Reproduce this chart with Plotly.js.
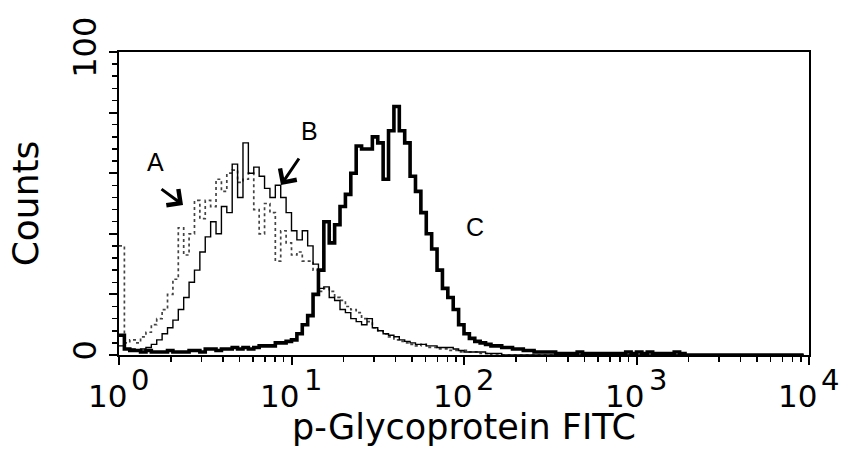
<!DOCTYPE html>
<html>
<head>
<meta charset="utf-8">
<script src="https://cdn.plot.ly/plotly-3.0.1.min.js"></script>
<style>
  html, body { margin: 0; padding: 0; background: #ffffff; }
  #chart { width: 843px; height: 458px; }
</style>
</head>
<body>
<div id="chart"></div>
<script>
// Histogram bins: 32 bins per decade over 4 decades (bin index -> left edge 10^(i/32))
const binIndex = [
  0,1,2,3,4,5,6,7,8,9,10,11,12,13,14,15,16,17,18,19,20,21,22,23,24,25,26,27,28,29,30,31,
  32,33,34,35,36,37,38,39,40,41,42,43,44,45,46,47,48,49,50,51,52,53,54,55,56,57,58,59,60,61,62,63,
  64,65,66,67,68,69,70,71,72,73,74,75,76,77,78,79,80,81,82,83,84,85,86,87,88,89,90,91,92,93,94,95,
  96,97,98,99,100,101,102,103,104,105,106,107,108,109,110,111,112,113,114,115,116,117,118,119,120,121,122,123,124,125,126,127
];

// Curve A (dotted)
const countsA = [
  36,4,5,4,6,7.5,10,12,15,20,
  25,42,33,40,51,45,51,49,58,54,
  60,61,57,58,60,48,40,50,47,31,
  41,37,33,34,31,31,28,21,22,21,
  19,18,16,15,14,12,11,9,8,7,
  6,5,4.5,4,3.5,3,3.5,2.5,2.5,2,
  2,1.5,1.5,1,1.5,1,1,0.5,0.5,0,
  0,0,0,0,0,0,0,0,0,0,
  0,0,0,0,0,0,0,0,0,0,
  0,0,0,0,0,0,0,0,0,0,
  0,0,0,0,0,0,0,0,0,0,
  0,0,0,0,0,0,0,0,0,0,
  0,0,0,0,0,0,0,0
];

// Curve B (thin solid)
const countsB = [
  3,2,2,1.5,2,2.5,3.5,5,7,9,
  11.5,15,19,24,28,34,39,44,40,49,
  47,63,52,70,60,62,59,55,52,56,
  52,47,41,38,41,36,30,22,22.5,19,
  18,15,14,12,11,10,12,9,8,7,
  6.5,6,5,4.5,4,3.5,3.5,3,3,2.5,
  2.5,2.5,2,1.5,1,1,1,1,0.5,0.5,
  0.5,0,0,0,0,0,0,0,0,0,
  0,0,0,0,0,0,0,0,0,0,
  0,0,0,0,0,0,0,0,0,0,
  0,0,0,0,0,0,0,0,0,0,
  0,0,0,0,0,0,0,0,0,0,
  0,0,0,0,0,0,0,0
];

// Curve C (thick solid)
const countsC = [
  6.5,2,1.5,1.5,1,1.5,1,1,1,1.5,
  1,1,1,1.5,1.5,1,2,2,1.5,2,
  2,2.5,2,2.5,2,2.5,3,3,3,4,
  4,4.5,5,7,10,13,20,28,44,37,
  43,49,53,60,69,68,68,72,70,58,
  74,82,74,70,59,54,47,40,35,28,
  22,19,15,10,7,5.5,4.5,4,3.5,3,
  3,2.5,2.5,2,2,1.5,1.5,1,1,1,
  1,0.5,0.5,0.5,0.5,1,0.5,0.5,0.5,0.5,
  0.5,0.5,0.5,0.5,1,0.5,1,0.5,1,0.5,
  0.5,0.5,0.5,1,0.5,0,0,0,0,0,
  0,0,0,0,0,0,0,0,0,0,
  0,0,0,0,0,0,0,0
];

// Curve labels and arrows
const labelText = ['A', 'B', 'C'];
const labelX = [1.62, 12.8, 116];
const labelY = [63.7, 73.9, 42.2];
const arrowX = [2.35, 8.69];
const arrowY = [49.5, 56.1];

// Axis ticks
const xTickVals = [1, 10, 100, 1000, 10000];
const xTickBase = ['10', '10', '10', '10', '10'];
const xTickExp = ['0', '1', '2', '3', '4'];
const xMinorVals = [2,3,4,5,6,7,8,9,20,30,40,50,60,70,80,90,200,300,400,500,600,700,800,900,2000,3000,4000,5000,6000,7000,8000,9000];
const yTickVals = [0, 20, 40, 60, 80, 100];
const yTickText = ['0', '', '', '', '', '100'];

const xEdges = binIndex.map(i => Math.pow(10, i / 32));

const traces = [
  {
    x: xEdges, y: countsA, type: 'scatter', mode: 'lines', line: {shape: 'hv', color: '#444444', width: 1.7, dash: 'dot'},
    hoverinfo: 'skip', showlegend: false
  },
  {
    x: xEdges, y: countsB, type: 'scatter', mode: 'lines', line: {shape: 'hv', color: '#000000', width: 1.4},
    hoverinfo: 'skip', showlegend: false
  },
  {
    x: xEdges, y: countsC, type: 'scatter', mode: 'lines', line: {shape: 'hv', color: '#000000', width: 3.6},
    hoverinfo: 'skip', showlegend: false
  }
];

const tickFont = 'DejaVu Sans, sans-serif';
const annotations = [];
// x tick labels as base + superscript exponent
xTickVals.forEach((v, k) => {
  annotations.push({
    x: Math.log10(v), y: 0, xref: 'x', yref: 'paper', text: xTickBase[k], showarrow: false,
    xanchor: 'center', yanchor: 'middle', xshift: -12, yshift: -41, borderpad: 0,
    font: {family: tickFont, size: 31, color: '#000'}
  });
  annotations.push({
    x: Math.log10(v), y: 0, xref: 'x', yref: 'paper', text: xTickExp[k], showarrow: false,
    xanchor: 'center', yanchor: 'middle', xshift: 21, yshift: -25, borderpad: 0,
    font: {family: tickFont, size: 29, color: '#000'}
  });
});
labelText.forEach((t, k) => {
  annotations.push({
    x: Math.log10(labelX[k]), y: labelY[k], xref: 'x', yref: 'y', text: t, showarrow: false,
    font: {family: 'Liberation Sans, Arial, sans-serif', size: 25, color: '#000'}
  });
});
const arrowOffsets = [[-23, -17], [19, -28]];
arrowX.forEach((ax, k) => {
  annotations.push({
    x: Math.log10(ax), y: arrowY[k], xref: 'x', yref: 'y', text: '', showarrow: true,
    arrowhead: 4, arrowsize: 1.3, arrowwidth: 3, arrowcolor: '#000',
    ax: arrowOffsets[k][0], ay: arrowOffsets[k][1]
  });
});

const layout = {
  width: 843, height: 458,
  margin: {l: 119, r: 34, t: 52, b: 103},
  paper_bgcolor: '#ffffff', plot_bgcolor: '#ffffff',
  showlegend: false,
  xaxis: {
    type: 'log', range: [0, 4],
    tickmode: 'array', tickvals: xTickVals, showticklabels: false,
    ticks: 'outside', ticklen: 8, tickwidth: 2, tickcolor: '#000',
    minor: {tickmode: 'array', tickvals: xMinorVals, ticks: 'outside', ticklen: 5, tickwidth: 1.5, tickcolor: '#000', showgrid: false},
    showline: true, linecolor: '#000', linewidth: 2, mirror: true,
    showgrid: false, zeroline: false,
    title: {text: 'p-Glycoprotein FITC', font: {family: tickFont, size: 35, color: '#000'}, standoff: 50}
  },
  yaxis: {
    range: [0, 100],
    tickmode: 'array', tickvals: yTickVals, ticktext: yTickText, tickangle: -90,
    ticks: 'outside', ticklen: 8, tickwidth: 2, tickcolor: '#000',
    minor: {tickmode: 'linear', tick0: 0, dtick: 4, ticks: 'outside', ticklen: 5, tickwidth: 1.5, tickcolor: '#000', showgrid: false},
    showline: true, linecolor: '#000', linewidth: 2, mirror: true,
    showgrid: false, zeroline: false,
    tickfont: {family: tickFont, size: 32, color: '#000'},
    title: {text: 'Counts', font: {family: tickFont, size: 36, color: '#000'}, standoff: 17}
  },
  annotations: annotations
};

Plotly.newPlot('chart', traces, layout, {displayModeBar: false, staticPlot: true});
</script>
</body>
</html>
